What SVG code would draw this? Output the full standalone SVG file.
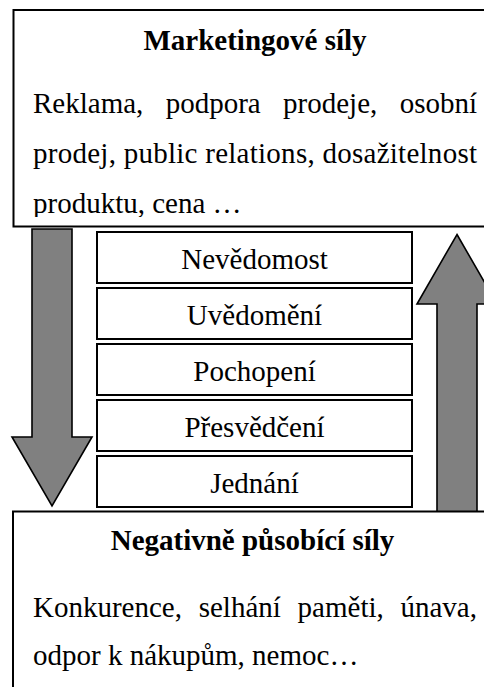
<svg xmlns="http://www.w3.org/2000/svg" width="484" height="687" viewBox="0 0 484 687">
<style>
.t{font-family:"Liberation Serif","Times New Roman",serif;font-size:29px;fill:#000}
.b{font-weight:bold}
.box{fill:#fff;stroke:#000;stroke-width:2}
.arr{fill:#808080;stroke:#000;stroke-width:1.6;stroke-linejoin:miter}
</style>
<defs>
<clipPath id="clipTop"><rect x="0" y="0" width="484" height="217"/></clipPath>
</defs>
<rect width="484" height="687" fill="#fff"/>
<g id="marketing">
<rect class="box" x="13.5" y="10" width="490" height="216.5"/>
<text class="t b" x="255" y="50" text-anchor="middle">Marketingové síly</text>
<text class="t" y="113"><tspan x="33">Reklama,</tspan><tspan x="165.7">podpora</tspan><tspan x="283.1">prodeje,</tspan><tspan x="477" text-anchor="end">osobní</tspan></text>
<text class="t" y="163" x="33" textLength="444" lengthAdjust="spacing">prodej, public relations, dosažitelnost</text>
<text class="t" x="33" y="213" clip-path="url(#clipTop)">produktu, cena …</text>
</g>
<g id="connectors">
<polygon id="down" class="arr" points="32,229 72,229 72,437 92,437 52,506 12,437 32,437"/>
<polygon id="up" class="arr" points="457,234.5 497,304 477,304 477,512 437,512 437,304 417,304"/>
</g>
<g id="s1"><rect class="box" x="97" y="232" width="315" height="51"/><text class="t" x="254.5" y="268.5" text-anchor="middle">Nevědomost</text></g>
<g id="s2"><rect class="box" x="97" y="288" width="315" height="51"/><text class="t" x="254.5" y="324.5" text-anchor="middle">Uvědomění</text></g>
<g id="s3"><rect class="box" x="97" y="344" width="315" height="51"/><text class="t" x="254.5" y="380.5" text-anchor="middle">Pochopení</text></g>
<g id="s4"><rect class="box" x="97" y="400" width="315" height="51"/><text class="t" x="254.5" y="436.5" text-anchor="middle">Přesvědčení</text></g>
<g id="s5"><rect class="box" x="97" y="456" width="315" height="51"/><text class="t" x="254.5" y="492.5" text-anchor="middle">Jednání</text></g>
<g id="negative">
<rect class="box" x="13" y="511.5" width="490" height="200"/>
<text class="t b" x="252.5" y="550" text-anchor="middle">Negativně působící síly</text>
<text class="t" y="616.5"><tspan x="33">Konkurence,</tspan><tspan x="198.7">selhání</tspan><tspan x="297.6">paměti,</tspan><tspan x="477" text-anchor="end">únava,</tspan></text>
<text class="t" x="33" y="665">odpor k nákupům, nemoc…</text>
</g>
</svg>
